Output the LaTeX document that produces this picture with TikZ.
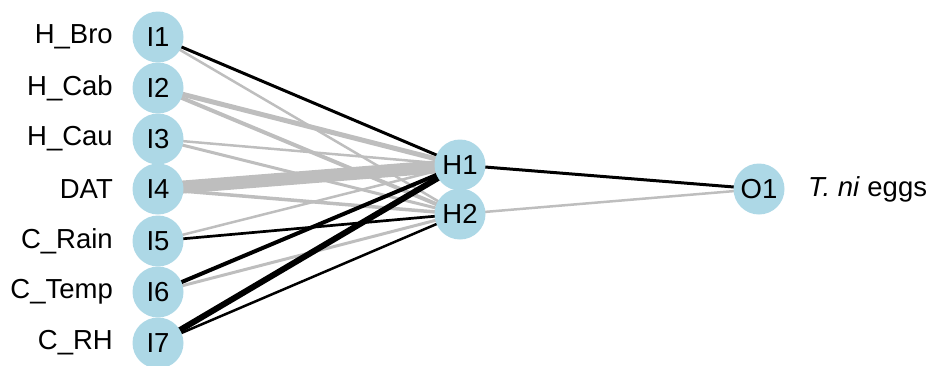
\documentclass[tikz,border=0pt]{standalone}
\usepackage{fontspec}
\setmainfont{Liberation Sans}
\usetikzlibrary{backgrounds}
\definecolor{neuron}{HTML}{ADD8E6}
\definecolor{negw}{HTML}{BEBEBE}
\begin{document}
\begin{tikzpicture}[x=1pt,y=-1pt,
  neuronnode/.style={circle,fill=neuron,minimum size=51pt,inner sep=0pt,font=\fontsize{27.5}{31}\selectfont},
  varlabel/.style={anchor=east,inner sep=0pt,font=\fontsize{27.5}{31}\selectfont},
  pos/.style={draw=black,line width=#1},
  neg/.style={draw=negw,line width=#1}]
\useasboundingbox (0,0) rectangle (928,365);
% input layer
\foreach \i/\y/\lab in {1/37/H\_Bro,2/88/H\_Cab,3/139/H\_Cau,4/189/DAT,5/241/C\_Rain,6/292/C\_Temp,7/343/C\_RH}{
  \node[neuronnode] (I\i) at (158,\y) {I\i};
  \node[varlabel] (L\i) at (113,\y) {\lab};
}
% hidden and output layers
\node[neuronnode] (H1) at (460,165) {H1};
\node[neuronnode] (H2) at (460,214) {H2};
\node[neuronnode] (O1) at (759,189) {O1};
\node[anchor=west,inner sep=0pt,font=\fontsize{27.5}{31}\selectfont] (Olab) at (808,189) {\textit{T. ni} eggs};
% weighted connections, drawn beneath the neurons
\begin{scope}[on background layer]
\draw[pos=3pt]   (I1.center) -- (H1.center);
\draw[neg=2.5pt] (I1.center) -- (H2.center);
\draw[neg=5pt]   (I2.center) -- (H1.center);
\draw[neg=4pt]   (I2.center) -- (H2.center);
\draw[neg=2.5pt] (I3.center) -- (H1.center);
\draw[neg=3pt]   (I3.center) -- (H2.center);
\draw[neg=13pt]  (I4.center) -- (H1.center);
\draw[neg=3.5pt] (I4.center) -- (H2.center);
\draw[neg=2.5pt] (I5.center) -- (H1.center);
\draw[pos=2.7pt] (I5.center) -- (H2.center);
\draw[pos=4pt]   (I6.center) -- (H1.center);
\draw[neg=3pt]   (I6.center) -- (H2.center);
\draw[pos=6pt]   (I7.center) -- (H1.center);
\draw[pos=2.5pt] (I7.center) -- (H2.center);
\draw[pos=3pt]   (H1.center) -- (O1.center);
\draw[neg=2.5pt] (H2.center) -- (O1.center);
\end{scope}
\end{tikzpicture}
\end{document}
